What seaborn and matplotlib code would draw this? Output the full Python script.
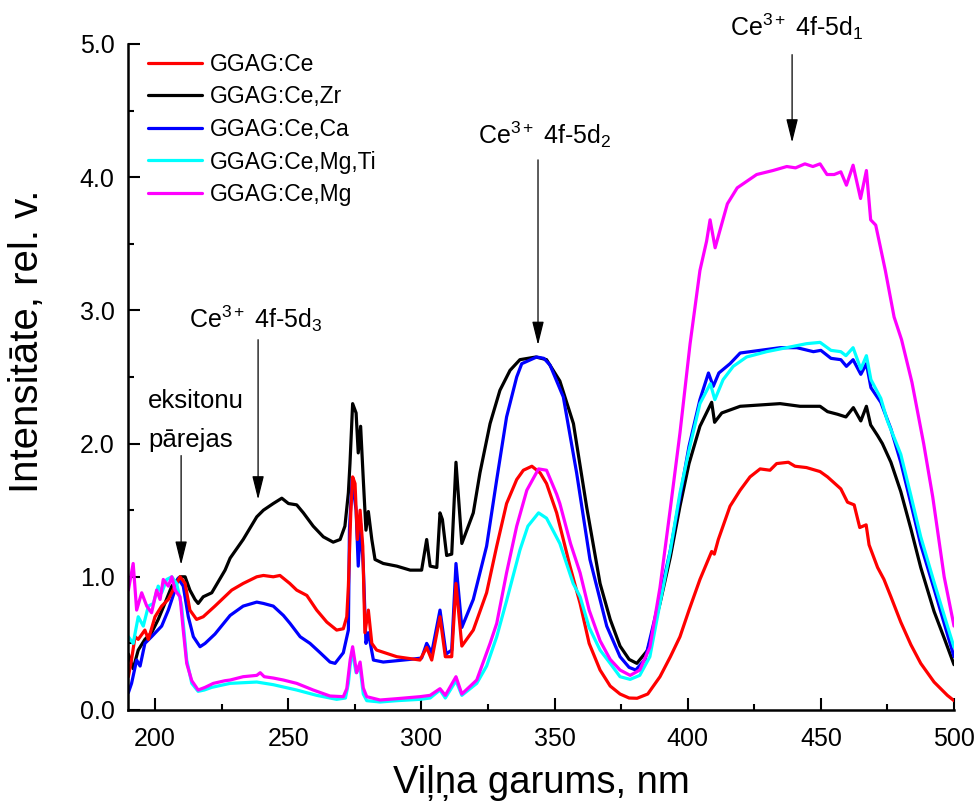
import matplotlib
matplotlib.use("Agg")
import matplotlib.pyplot as plt
from matplotlib.ticker import MultipleLocator, FormatStrFormatter
import seaborn as sns
import pandas as pd

# ---------------- data ----------------
series_names = ["GGAG:Ce", "GGAG:Ce,Zr", "GGAG:Ce,Ca", "GGAG:Ce,Mg,Ti", "GGAG:Ce,Mg"]
series_colors = ["#ff0000", "#000000", "#0000ff", "#00ffff", "#ff00ff"]

wl_ce = [190, 191.2, 192.5, 193.7, 196.2, 197.5, 200, 202.5, 205, 207.5, 209.4, 211.3, 213.1, 215.6,
         218.1, 222.5, 228.8, 233.1, 238.2, 240.7, 244.4, 246.9, 250.6, 253.2, 257, 260.7, 264.5,
         268.2, 270.7, 272, 272.6, 273.5, 274.2, 275.1, 276, 277, 278, 278.8, 280.1, 281.4, 283.2,
         290.8, 299.5, 302, 303.9, 307, 309, 311.4, 313, 315.2, 319.5, 324.5, 328.3, 332, 335.8,
         338.3, 341.5, 344.6, 347, 350.8, 355.8, 359.6, 363, 367.1, 370.9, 374.6, 378, 381, 385,
         389.6, 393.5, 397.1, 400.5, 404.6, 409, 410, 411.5, 415.9, 419.7, 423.4, 427.2, 430.9,
         433.4, 437.8, 440.3, 444.6, 449.7, 452.5, 457.5, 460, 462.5, 464.6, 467, 468.1, 471.3,
         473.7, 476.3, 480, 483.8, 487.5, 492.5, 497.5, 500]
int_ce = [0.25, 0.38, 0.55, 0.53, 0.6, 0.53, 0.7, 0.78, 0.83, 0.93, 1.0, 0.95, 0.75, 0.68,
          0.7, 0.78, 0.9, 0.95, 1.0, 1.01, 1.0, 1.01, 0.95, 0.9, 0.86, 0.75, 0.66,
          0.6, 0.61, 0.7, 0.93, 1.48, 1.75, 1.7, 1.28, 1.5, 1.23, 0.58, 0.75, 0.5, 0.45,
          0.4, 0.375, 0.47, 0.375, 0.7, 0.4, 0.4, 0.95, 0.48, 0.6, 0.88, 1.23, 1.55, 1.73,
          1.8, 1.83, 1.78, 1.7, 1.48, 1.08, 0.8, 0.5, 0.3, 0.18, 0.12, 0.09, 0.088, 0.12,
          0.25, 0.4, 0.55, 0.75, 0.98, 1.19, 1.17, 1.28, 1.53, 1.65, 1.75, 1.81, 1.8,
          1.85, 1.86, 1.83, 1.82, 1.79, 1.75, 1.66, 1.56, 1.54, 1.37, 1.39, 1.24, 1.07,
          0.98, 0.85, 0.66, 0.49, 0.35, 0.21, 0.11, 0.07]

wl_zr = [190, 191.8, 193.7, 196.2, 198.7, 201.2, 203.7, 206.3, 209.4, 211.3, 213.1, 215, 216.2,
         218.1, 221.3, 226.3, 228.2, 233.1, 238.2, 240.7, 244.4, 247.6, 250.1, 253.2, 255.7, 259.4,
         263.2, 266.9, 269.5, 271.3, 272.6, 273.2, 274.2, 275.5, 276.3, 277.2, 278.2, 279.2, 280.1,
         281.4, 282.6, 285.7, 290.8, 295.8, 300.1, 302, 303.3, 305.8, 307, 307.9, 309.5, 311.4,
         313, 315.2, 319.5, 322, 325.8, 329.5, 333.3, 337, 340, 343, 347, 352, 357.1, 362.1,
         367.1, 370.9, 374.6, 378, 380.9, 385, 389.6, 393.5, 397.1, 400.5, 404.6, 409, 410.1,
         412.8, 419.7, 427.2, 434.7, 442.2, 449.7, 452.5, 456.3, 459.4, 462.2, 465, 467.1, 468.7,
         471.3, 473.1, 476.3, 480, 483.8, 487.5, 492.5, 496.3, 500]
int_zr = [0.42, 0.31, 0.45, 0.53, 0.58, 0.68, 0.8, 0.93, 1.0, 1.0, 0.9, 0.83, 0.8,
          0.85, 0.88, 1.05, 1.14, 1.28, 1.45, 1.5, 1.55, 1.59, 1.55, 1.54, 1.48, 1.38,
          1.3, 1.26, 1.28, 1.38, 1.63, 1.85, 2.3, 2.23, 1.93, 2.13, 1.73, 1.35, 1.49,
          1.28, 1.13, 1.1, 1.08, 1.05, 1.05, 1.28, 1.08, 1.07, 1.48, 1.43, 1.16, 1.17,
          1.86, 1.25, 1.48, 1.78, 2.15, 2.4, 2.55, 2.63, 2.64, 2.65, 2.63, 2.47, 2.15, 1.52,
          0.95, 0.68, 0.48, 0.38, 0.35, 0.45, 0.8, 1.15, 1.53, 1.85, 2.13, 2.31, 2.16,
          2.23, 2.28, 2.29, 2.3, 2.28, 2.28, 2.24, 2.22, 2.2, 2.27, 2.17, 2.28, 2.14,
          2.06, 2.0, 1.86, 1.64, 1.36, 1.07, 0.74, 0.54, 0.34]

wl_ca = [190, 191.2, 193.1, 194.4, 196.2, 198.7, 202.5, 205, 207.5, 208.7, 210.6, 212.5, 214.4,
         216.9, 218.8, 222.5, 228.2, 233.1, 238.2, 240.7, 244.4, 248.2, 250.7, 254.5, 258.2, 262,
         265.7, 267.6, 270.7, 272.6, 273, 274, 275.5, 276.3, 277.2, 278.2, 279.2, 280.1, 282,
         285.7, 295.8, 300.1, 302, 303.9, 307, 309.3, 311.4, 313, 315.2, 319.5, 324.5, 328.3,
         332, 335.8, 337.7, 343.3, 346, 348.3, 353.3, 358.3, 363.3, 369.6, 374.6, 378, 380.5,
         384, 389.6, 393.5, 397.1, 400.5, 404.6, 407.8, 409.6, 411.7, 415.9, 419.7, 427.2, 434.7,
         441, 447.2, 450, 453.8, 457.5, 459.6, 462.1, 465, 467.1, 468.8, 472.5, 476.3, 480,
         483.8, 487.5, 492.5, 496.3, 500]
int_ca = [0.13, 0.2, 0.375, 0.33, 0.5, 0.55, 0.63, 0.75, 0.9, 0.99, 0.93, 0.7, 0.55,
          0.475, 0.5, 0.57, 0.71, 0.78, 0.81, 0.8, 0.78, 0.71, 0.65, 0.55, 0.5, 0.43,
          0.36, 0.35, 0.43, 0.6, 1.35, 1.73, 1.5, 1.08, 1.4, 1.08, 0.5, 0.58, 0.375,
          0.36, 0.38, 0.39, 0.5, 0.43, 0.75, 0.42, 0.45, 1.1, 0.62, 0.83, 1.23, 1.73,
          2.2, 2.5, 2.6, 2.65, 2.64, 2.59, 2.35, 1.78, 1.13, 0.63, 0.4, 0.32, 0.3,
          0.38, 0.85, 1.2, 1.6, 1.98, 2.33, 2.53, 2.43, 2.53, 2.6, 2.68, 2.7, 2.72,
          2.72, 2.69, 2.7, 2.64, 2.63, 2.58, 2.63, 2.52, 2.6, 2.42, 2.31, 2.11, 1.86,
          1.55, 1.24, 0.91, 0.65, 0.4]

wl_mgti = [190, 191.8, 193.7, 195.6, 197.5, 199.4, 201.2, 202.5, 204.4, 206.3, 208.1, 210, 211.9,
           213.8, 216.2, 218.5, 221.3, 228.2, 238.2, 244.4, 253.2, 260.7, 268.2, 271.5, 272.6,
           273.5, 274.2, 275.5, 277, 278.2, 279.5, 284.5, 290.8, 299.5, 303.3, 307, 309, 313,
           315.2, 320.8, 324.5, 328.3, 332, 337, 340, 344, 347, 352, 357, 359.6, 363, 367.1,
           370.9, 374.6, 378.4, 382, 385.8, 389.6, 393.5, 397.1, 400.5, 404.6, 408.5, 410.2,
           413.3, 417.1, 422.1, 429.6, 437.1, 444.6, 449.7, 453.8, 457.5, 459.4, 462.1, 465,
           467.1, 468.8, 472.5, 475, 480, 483.8, 487.5, 492.5, 496.3, 500]
int_mgti = [0.55, 0.5, 0.7, 0.63, 0.78, 0.8, 0.93, 0.88, 0.98, 1.0, 0.95, 0.78, 0.375,
            0.2, 0.14, 0.15, 0.17, 0.2, 0.21, 0.19, 0.15, 0.11, 0.08, 0.09, 0.2,
            0.38, 0.42, 0.28, 0.32, 0.12, 0.07, 0.06, 0.07, 0.08, 0.09, 0.15, 0.09, 0.22,
            0.11, 0.2, 0.33, 0.55, 0.82, 1.2, 1.38, 1.48, 1.44, 1.25, 0.95, 0.85, 0.62, 0.45,
            0.35, 0.25, 0.23, 0.26, 0.4, 0.8, 1.2, 1.63, 1.95, 2.3, 2.45, 2.33,
            2.48, 2.58, 2.65, 2.69, 2.72, 2.75, 2.76, 2.7, 2.69, 2.66, 2.72, 2.56,
            2.66, 2.48, 2.34, 2.17, 1.92, 1.61, 1.3, 0.96, 0.71, 0.47]

wl_mg = [190, 191.8, 193.1, 195, 196.9, 198.7, 200.6, 201.9, 203.1, 205, 206.3, 207.5, 209.4,
         210.6, 211.9, 213.8, 216.2, 218.8, 221.9, 226.3, 228.2, 233.1, 238.2, 239.5, 241, 244.4,
         248.2, 253.2, 259.4, 265.7, 270.7, 272, 273.3, 274.2, 275.7, 277, 278.2, 279.5, 284.5,
         290.8, 299.5, 303.3, 307, 309, 313, 315.2, 320.8, 325.8, 328.3, 332, 335.8, 339.6, 344,
         347, 350.8, 352, 356, 359.6, 363, 367.1, 370.9, 374.6, 378.4, 382, 385.8, 389.6, 393.4,
         397.1, 400.9, 404.6, 407.1, 408.4, 410.3, 412.1, 414.9, 418.6, 425.9, 432, 437.2, 440.5,
         444, 447, 449.7, 452.3, 455, 457.5, 459.6, 462.1, 464.9, 467.1, 468.7, 470.6, 472.3,
         474.2, 477.5, 480.3, 484.2, 488.6, 492, 496.3, 500]
int_mg = [0.9, 1.1, 0.75, 0.88, 0.78, 0.73, 0.9, 0.83, 0.98, 0.93, 1.0, 0.9, 0.85,
          0.6, 0.35, 0.22, 0.15, 0.17, 0.2, 0.22, 0.225, 0.25, 0.26, 0.28, 0.25, 0.24,
          0.225, 0.2, 0.15, 0.105, 0.1, 0.16, 0.38, 0.475, 0.28, 0.36, 0.165, 0.1, 0.075,
          0.085, 0.1, 0.11, 0.16, 0.11, 0.25, 0.12, 0.225, 0.5, 0.65, 1.03, 1.38, 1.65, 1.81,
          1.8, 1.62, 1.55, 1.25, 1.03, 0.75, 0.52, 0.38, 0.3, 0.26, 0.3, 0.47, 0.92, 1.5,
          2.08, 2.75, 3.3, 3.52, 3.68, 3.47, 3.6, 3.8, 3.92, 4.02, 4.05, 4.08, 4.07,
          4.1, 4.08, 4.1, 4.02, 4.02, 4.04, 3.94, 4.09, 3.84, 4.05, 3.68, 3.64, 3.48,
          3.3, 2.95, 2.78, 2.46, 2.0, 1.6, 1.0, 0.63]

x_ticks = [200, 250, 300, 350, 400, 450, 500]
y_ticks = [0.0, 1.0, 2.0, 3.0, 4.0, 5.0]

# annotations: (text, text x, text y, arrow x, arrow start y, arrow tip y)
annot_texts = [r"Ce$^{\mathrm{3+}}$ 4f-5d$_{\mathrm{1}}$",
               r"Ce$^{\mathrm{3+}}$ 4f-5d$_{\mathrm{2}}$",
               r"Ce$^{\mathrm{3+}}$ 4f-5d$_{\mathrm{3}}$"]
annot_text_x = [441.0, 346.4, 237.9]
annot_text_y = [5.13, 4.32, 2.94]
arrow_x = [439.2, 343.8, 238.7, 209.8]
arrow_y0 = [4.92, 4.13, 2.78, 1.91]
arrow_y1 = [4.26, 2.74, 1.58, 1.09]
exc_text = ["eksitonu", "pārejas"]
exc_x = 197.4
exc_y = [2.32, 2.03]

# ---------------- styling ----------------
sns.set_theme(style="ticks")
plt.rcParams["font.family"] = ["Liberation Sans", "DejaVu Sans"]
plt.rcParams["mathtext.fontset"] = "custom"
plt.rcParams["mathtext.rm"] = "Liberation Sans"
plt.rcParams["mathtext.it"] = "Liberation Sans:italic"
plt.rcParams["mathtext.bf"] = "Liberation Sans:bold"
plt.rcParams["text.color"] = "black"
plt.rcParams["axes.labelcolor"] = "black"
plt.rcParams["xtick.color"] = "black"
plt.rcParams["ytick.color"] = "black"

frames = []
for name, wl, val in zip(series_names,
                         [wl_ce, wl_zr, wl_ca, wl_mgti, wl_mg],
                         [int_ce, int_zr, int_ca, int_mgti, int_mg]):
    frames.append(pd.DataFrame({"wl": wl, "I": val, "sample": name}))
df = pd.concat(frames, ignore_index=True)

fig = plt.figure(figsize=(9.8, 8.07), dpi=100)
ax = fig.add_axes([0.131, 0.1202, 0.8425, 0.8253])

draw_order = ["GGAG:Ce,Zr", "GGAG:Ce,Ca", "GGAG:Ce", "GGAG:Ce,Mg,Ti", "GGAG:Ce,Mg"]
palette = dict(zip(series_names, series_colors))
for name in draw_order:
    sns.lineplot(data=df[df["sample"] == name], x="wl", y="I", color=palette[name],
                 lw=2.3, estimator=None, sort=True, ax=ax, label=name)

ax.set_xlim(190, 500)
ax.set_ylim(0, 5.0)
ax.set_xticks(x_ticks)
ax.set_yticks(y_ticks)
ax.xaxis.set_minor_locator(MultipleLocator(25))
ax.yaxis.set_minor_locator(MultipleLocator(0.5))
ax.yaxis.set_major_formatter(FormatStrFormatter("%.1f"))
ax.tick_params(which="major", direction="in", length=8.5, width=1.5, labelsize=18, pad=10,
               color="black", labelcolor="black")
ax.tick_params(which="minor", direction="in", length=4.5, width=1.5, color="black")
ax.tick_params(axis="x", which="major", pad=12)
for s in ["top", "right"]:
    ax.spines[s].set_visible(False)
for s in ["left", "bottom"]:
    ax.spines[s].set_linewidth(1.8)
    ax.spines[s].set_color("black")

ax.set_xlabel("Viļņa garums, nm", fontsize=27.5, color="black")
ax.set_ylabel("Intensitāte, rel. v.", fontsize=29, color="black")
ax.xaxis.set_label_coords(0.5, -0.082)
ax.yaxis.set_label_coords(-0.1, 0.553)

handles, labels = ax.get_legend_handles_labels()
hmap = dict(zip(labels, handles))
ax.legend([hmap[n] for n in series_names], series_names, loc="upper left",
          bbox_to_anchor=(0.0237, 0.987), frameon=False, fontsize=16.5,
          handlelength=2.35, handletextpad=0.35, labelspacing=0.42,
          borderpad=0, borderaxespad=0)

for t, tx, ty in zip(annot_texts, annot_text_x, annot_text_y):
    ax.text(tx, ty, t, fontsize=18, ha="center", va="center", clip_on=False, color="black")
for t, ty in zip(exc_text, exc_y):
    ax.text(exc_x, ty, t, fontsize=18.5, ha="left", va="center", color="black")
for x, y0, y1 in zip(arrow_x, arrow_y0, arrow_y1):
    ax.annotate("", xy=(x, y1), xytext=(x, y0),
                arrowprops=dict(arrowstyle="-|>,head_length=1.45,head_width=0.36",
                                mutation_scale=10, lw=0.9, color="black",
                                shrinkA=0, shrinkB=0))

fig.savefig("out.png", dpi=100)
